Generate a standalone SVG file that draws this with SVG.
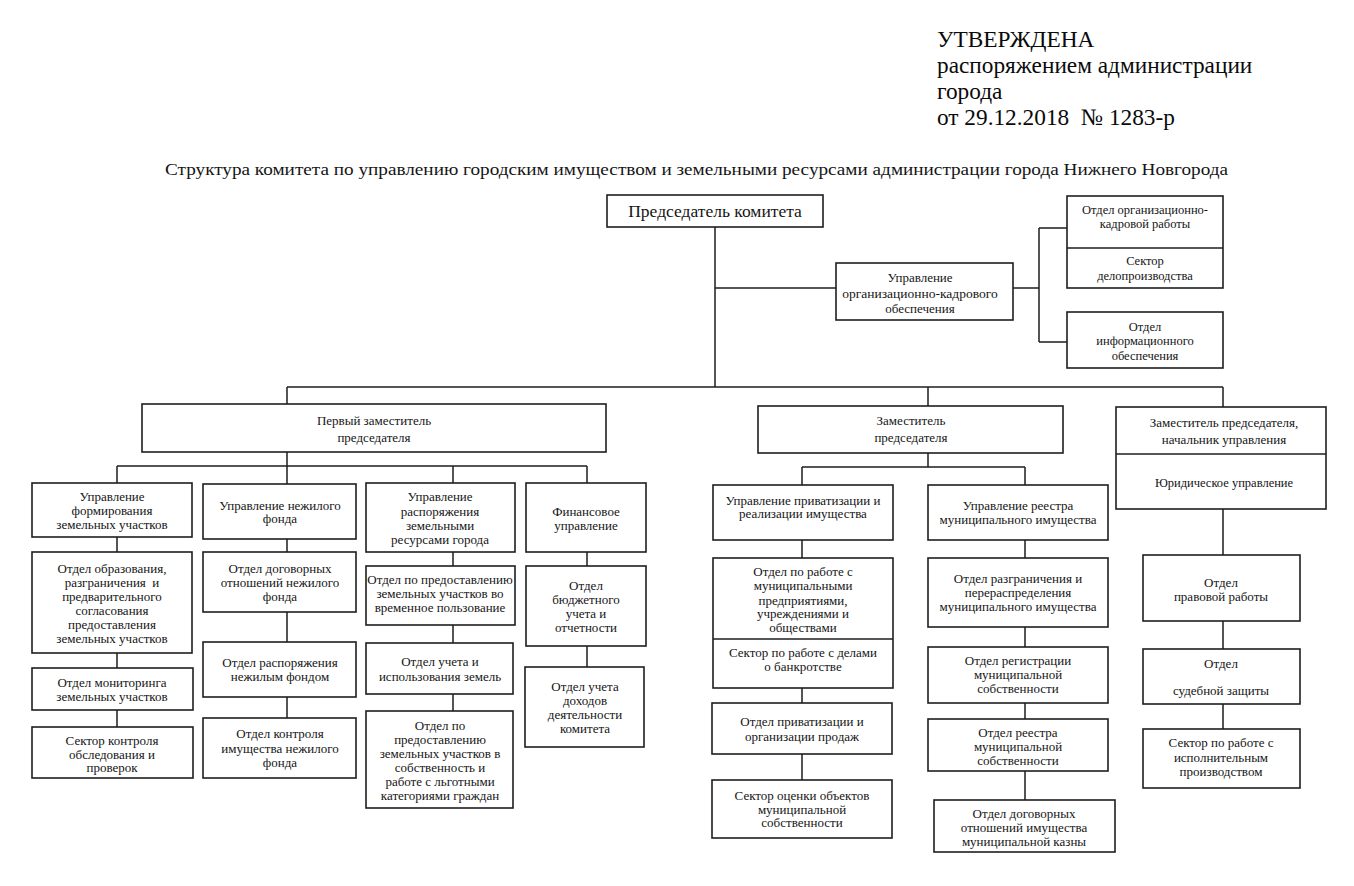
<svg xmlns="http://www.w3.org/2000/svg" width="1354" height="886" viewBox="0 0 1354 886">
<style>
.bg{fill:#fff}
.box{fill:#fff;stroke:#1e1e1e;stroke-width:1.6}
.ln{fill:none;stroke:#1e1e1e;stroke-width:1.5}
text{font-family:"Liberation Serif","Times New Roman",serif;fill:#151515}
.t{font-size:13px;text-anchor:middle}
.s{font-size:12.5px;text-anchor:middle}
.hd{font-size:23.3px;fill:#0a0a0a}
.ti{font-size:16px}
</style>
<rect class="bg" x="0" y="0" width="1354" height="886"/>

<g id="header">
<text class="hd" x="937" y="47">УТВЕРЖДЕНА</text>
<text class="hd" x="937" y="73">распоряжением администрации</text>
<text class="hd" x="937" y="99">города</text>
<text class="hd" x="937" y="125" style="white-space:pre">от 29.12.2018  № 1283-р</text>
</g>
<g id="title">
<text class="ti" x="165" y="175" textLength="1063" lengthAdjust="spacingAndGlyphs">Структура комитета по управлению городским имуществом и земельными ресурсами администрации города Нижнего Новгорода</text>
</g>

<g id="connectors">
<path class="ln" d="M715 227V387 M715 288H836 M1013 288H1039 M1039 228V342 M1039 228H1067 M1039 342H1067"/>
<path class="ln" d="M287 387H1223 M287 387V404 M928 387V406 M1223 387V407"/>
<path class="ln" d="M287 452V466 M117 466H587 M117 466V483 M287 466V484 M453 466V483 M587 466V483"/>
<path class="ln" d="M117 537V552 M117 653V668 M117 710V727"/>
<path class="ln" d="M287 539V552 M287 612V642 M287 697V718"/>
<path class="ln" d="M453 552V566 M453 625V643 M453 694V711"/>
<path class="ln" d="M587 552V566 M587 646V667"/>
<path class="ln" d="M928 453V467 M802 467H1025 M802 467V485 M1025 467V485"/>
<path class="ln" d="M802 540V558 M802 688V703 M802 754V780"/>
<path class="ln" d="M1025 540V558 M1025 627V647 M1025 703V719 M1025 771V800"/>
<path class="ln" d="M1223 509V555 M1223 621V649 M1223 704V729"/>
</g>

<g id="chair">
<rect class="box" x="607" y="195" width="216" height="32"/>
<text x="715" y="217" style="font-size:17.5px;text-anchor:middle">Председатель комитета</text>
</g>

<g id="upr-org-kadr">
<rect class="box" x="836" y="263" width="177" height="57"/>
<text class="t" x="920" y="282">Управление</text>
<text class="t" x="920" y="298" style="font-size:13.5px">организационно-кадрового</text>
<text class="t" x="920" y="313">обеспечения</text>
</g>

<g id="otdel-org-kadr">
<rect class="box" x="1067" y="196" width="156" height="92"/>
<path class="ln" d="M1067 248H1223"/>
<text class="s" x="1145" y="214">Отдел организационно-</text>
<text class="s" x="1145" y="228">кадровой работы</text>
<text class="s" x="1145" y="265">Сектор</text>
<text class="s" x="1145" y="280">делопроизводства</text>
</g>

<g id="otdel-inform">
<rect class="box" x="1067" y="312" width="156" height="56"/>
<text class="s" x="1145" y="331">Отдел</text>
<text class="s" x="1145" y="345">информационного</text>
<text class="s" x="1145" y="360">обеспечения</text>
</g>

<g id="perv-zam">
<rect class="box" x="142" y="404" width="464" height="48"/>
<text class="t" x="374" y="425">Первый заместитель</text>
<text class="t" x="374" y="442">председателя</text>
</g>

<g id="zam">
<rect class="box" x="758" y="406" width="305" height="47"/>
<text class="t" x="911" y="425">Заместитель</text>
<text class="t" x="911" y="442">председателя</text>
</g>

<g id="zam-nach-yur">
<rect class="box" x="1116" y="407" width="210" height="102"/>
<path class="ln" d="M1116 454H1326"/>
<text class="t" x="1224" y="427">Заместитель председателя,</text>
<text class="t" x="1224" y="444">начальник управления</text>
<text class="s" x="1224" y="487">Юридическое управление</text>
</g>

<g id="a1">
<rect class="box" x="32" y="483" width="160" height="54"/>
<text class="t" x="112" y="501">Управление</text>
<text class="t" x="112" y="515">формирования</text>
<text class="t" x="112" y="529">земельных участков</text>
</g>
<g id="a2">
<rect class="box" x="32" y="552" width="160" height="101"/>
<text class="t" x="112" y="573">Отдел образования,</text>
<text class="t" x="112" y="587" style="white-space:pre">разграничения  и</text>
<text class="t" x="112" y="601">предварительного</text>
<text class="t" x="112" y="615">согласования</text>
<text class="t" x="112" y="629">предоставления</text>
<text class="t" x="112" y="643">земельных участков</text>
</g>
<g id="a3">
<rect class="box" x="32" y="668" width="161" height="42"/>
<text class="t" x="112" y="687">Отдел мониторинга</text>
<text class="t" x="112" y="701">земельных участков</text>
</g>
<g id="a4">
<rect class="box" x="32" y="727" width="161" height="51"/>
<text class="t" x="112" y="745">Сектор контроля</text>
<text class="t" x="112" y="759">обследования и</text>
<text class="t" x="112" y="772">проверок</text>
</g>

<g id="b1">
<rect class="box" x="203" y="484" width="153" height="55"/>
<text class="t" x="280" y="510">Управление нежилого</text>
<text class="t" x="280" y="523">фонда</text>
</g>
<g id="b2">
<rect class="box" x="203" y="552" width="153" height="60"/>
<text class="t" x="280" y="573">Отдел договорных</text>
<text class="t" x="280" y="587">отношений нежилого</text>
<text class="t" x="280" y="601">фонда</text>
</g>
<g id="b3">
<rect class="box" x="203" y="642" width="153" height="55"/>
<text class="t" x="280" y="667">Отдел распоряжения</text>
<text class="t" x="280" y="681">нежилым фондом</text>
</g>
<g id="b4">
<rect class="box" x="203" y="718" width="153" height="60"/>
<text class="t" x="280" y="738">Отдел контроля</text>
<text class="t" x="280" y="753">имущества нежилого</text>
<text class="t" x="280" y="767">фонда</text>
</g>

<g id="c1">
<rect class="box" x="366" y="483" width="149" height="69"/>
<text class="t" x="440" y="501">Управление</text>
<text class="t" x="440" y="516">распоряжения</text>
<text class="t" x="440" y="530">земельными</text>
<text class="t" x="440" y="544">ресурсами города</text>
</g>
<g id="c2">
<rect class="box" x="366" y="566" width="149" height="59"/>
<text class="t" x="440" y="584">Отдел по предоставлению</text>
<text class="t" x="440" y="598">земельных участков во</text>
<text class="t" x="440" y="612">временное пользование</text>
</g>
<g id="c3">
<rect class="box" x="366" y="643" width="147" height="51"/>
<text class="t" x="440" y="666">Отдел учета и</text>
<text class="t" x="440" y="681">использования земель</text>
</g>
<g id="c4">
<rect class="box" x="366" y="711" width="147" height="97"/>
<text class="t" x="440" y="730">Отдел по</text>
<text class="t" x="440" y="744">предоставлению</text>
<text class="t" x="440" y="758">земельных участков в</text>
<text class="t" x="440" y="772">собственность и</text>
<text class="t" x="440" y="786">работе с льготными</text>
<text class="t" x="440" y="800">категориями граждан</text>
</g>

<g id="d1">
<rect class="box" x="526" y="483" width="120" height="69"/>
<text class="t" x="586" y="516">Финансовое</text>
<text class="t" x="586" y="530">управление</text>
</g>
<g id="d2">
<rect class="box" x="526" y="566" width="120" height="80"/>
<text class="t" x="586" y="590">Отдел</text>
<text class="t" x="586" y="604">бюджетного</text>
<text class="t" x="586" y="618">учета и</text>
<text class="t" x="586" y="632">отчетности</text>
</g>
<g id="d3">
<rect class="box" x="525" y="667" width="119" height="80"/>
<text class="t" x="585" y="691">Отдел учета</text>
<text class="t" x="585" y="705">доходов</text>
<text class="t" x="585" y="719">деятельности</text>
<text class="t" x="585" y="733">комитета</text>
</g>

<g id="e1">
<rect class="box" x="713" y="485" width="180" height="55"/>
<text class="t" x="803" y="505">Управление приватизации и</text>
<text class="t" x="803" y="518">реализации имущества</text>
</g>
<g id="e2">
<rect class="box" x="713" y="558" width="180" height="130"/>
<path class="ln" d="M713 639H893"/>
<text class="t" x="803" y="576">Отдел по работе с</text>
<text class="t" x="803" y="590">муниципальными</text>
<text class="t" x="803" y="605">предприятиями,</text>
<text class="t" x="803" y="618">учреждениями и</text>
<text class="t" x="803" y="632">обществами</text>
<text class="t" x="803" y="657">Сектор по работе с делами</text>
<text class="t" x="803" y="671">о банкротстве</text>
</g>
<g id="e3">
<rect class="box" x="712" y="703" width="180" height="51"/>
<text class="t" x="802" y="726">Отдел приватизации и</text>
<text class="t" x="802" y="741">организации продаж</text>
</g>
<g id="e4">
<rect class="box" x="712" y="780" width="180" height="58"/>
<text class="t" x="802" y="800">Сектор оценки объектов</text>
<text class="t" x="802" y="814">муниципальной</text>
<text class="t" x="802" y="827">собственности</text>
</g>

<g id="f1">
<rect class="box" x="928" y="485" width="180" height="55"/>
<text class="t" x="1018" y="510">Управление реестра</text>
<text class="t" x="1018" y="524">муниципального имущества</text>
</g>
<g id="f2">
<rect class="box" x="928" y="558" width="180" height="69"/>
<text class="t" x="1018" y="583">Отдел разграничения и</text>
<text class="t" x="1018" y="597">перераспределения</text>
<text class="t" x="1018" y="611">муниципального имущества</text>
</g>
<g id="f3">
<rect class="box" x="928" y="647" width="180" height="56"/>
<text class="t" x="1018" y="665">Отдел регистрации</text>
<text class="t" x="1018" y="679">муниципальной</text>
<text class="t" x="1018" y="693">собственности</text>
</g>
<g id="f4">
<rect class="box" x="928" y="719" width="180" height="52"/>
<text class="t" x="1018" y="737">Отдел реестра</text>
<text class="t" x="1018" y="751">муниципальной</text>
<text class="t" x="1018" y="765">собственности</text>
</g>
<g id="f5">
<rect class="box" x="934" y="800" width="181" height="52"/>
<text class="t" x="1024" y="818">Отдел договорных</text>
<text class="t" x="1024" y="832">отношений имущества</text>
<text class="t" x="1024" y="846">муниципальной казны</text>
</g>

<g id="g1">
<rect class="box" x="1143" y="555" width="157" height="66"/>
<text class="t" x="1221" y="587">Отдел</text>
<text class="t" x="1221" y="601">правовой работы</text>
</g>
<g id="g2">
<rect class="box" x="1143" y="649" width="157" height="55"/>
<text class="t" x="1221" y="668">Отдел</text>
<text class="t" x="1221" y="695">судебной защиты</text>
</g>
<g id="g3">
<rect class="box" x="1143" y="729" width="157" height="59"/>
<text class="t" x="1221" y="747">Сектор по работе с</text>
<text class="t" x="1221" y="762">исполнительным</text>
<text class="t" x="1221" y="776">производством</text>
</g>
</svg>
